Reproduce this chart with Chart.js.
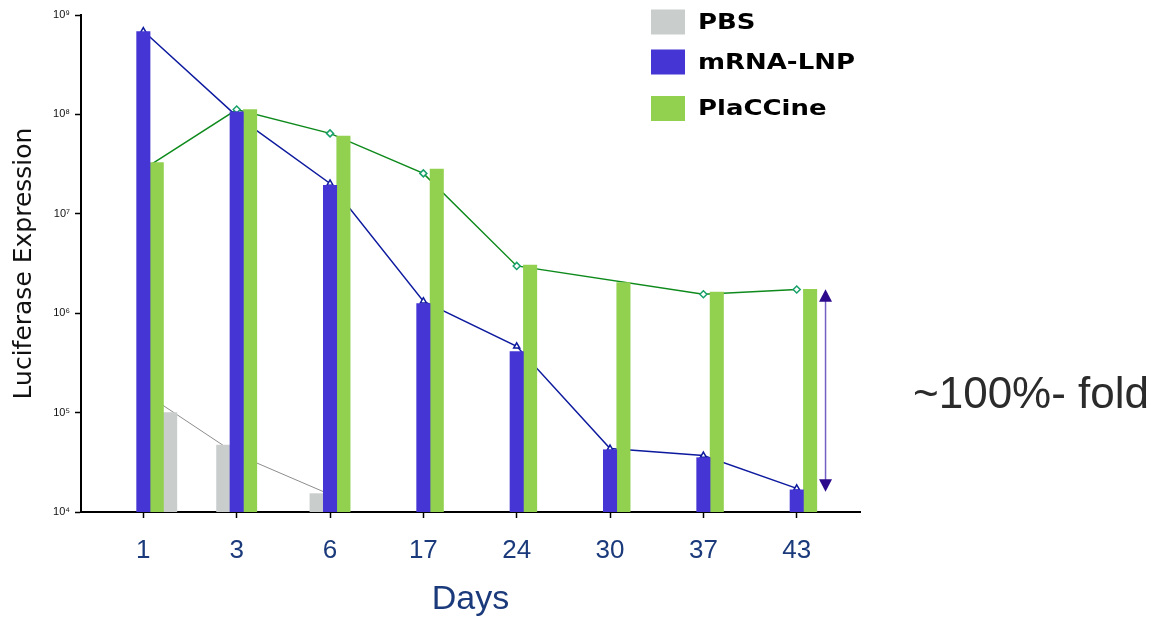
<!DOCTYPE html>
<html>
<head>
<meta charset="utf-8">
<script src="https://cdn.jsdelivr.net/npm/chart.js@4.4.1/dist/chart.umd.min.js"></script>
<style>
  html, body { margin: 0; padding: 0; background: #fff; }
  canvas { display: block; }
</style>
</head>
<body>
<canvas id="lucChart" width="1155" height="620"></canvas>
<script>
const days = ['1', '3', '6', '17', '24', '30', '37', '43'];
const yTicks = [1e4, 1e5, 1e6, 1e7, 1e8, 1e9];

// bar heights per group
const pbsBars = [1.0e5, 4.7e4, 1.53e4];
const mrnaBars = [6.8e8, 1.06e8, 1.93e7, 1.25e6, 4.1e5, 4.23e4, 3.52e4, 1.67e4];
const placBars = [3.27e7, 1.12e8, 6.04e7, 2.81e7, 3.05e6, 2.03e6, 1.63e6, 1.74e6];

// connecting lines
const pbsLine = [1.6e5, 3.8e4, 1.5e4];
const mrnaLine = [6.9e8, 9.6e7, 2.02e7, 1.32e6, 4.65e5, 4.35e4, 3.7e4, 1.73e4];
const placLine = [2.8e7, 1.12e8, 6.44e7, 2.55e7, 2.99e6, null, 1.55e6, 1.73e6];

const foldLabel = '~100%- fold';

const colors = { pbs: '#c9cdcc', mrna: '#4535d5', plac: '#92d050' };
const navy = '#1b3a7b';

// one bar slot in x units (bar width / category spacing)
const SLOT = 0.1436;
const sup = n => String(n).split('').map(c => '⁰¹²³⁴⁵⁶⁷⁸⁹'[+c]).join('');

const barSet = (label, values, color, slot) => ({
    type: 'bar',
    label,
    order: 1,
    data: values.map((v, i) => ({ x: i + slot(i) * SLOT, y: v })),
    backgroundColor: color,
    barThickness: 13.4,
    grouped: false
});

const lineSet = (label, values, color, width, pointStyle, pointColor) => ({
    type: 'line',
    label,
    order: 2,
    data: values.map((v, i) => ({ x: i, y: v })),
    borderColor: color,
    borderWidth: width,
    spanGaps: true,
    tension: 0,
    pointStyle: pointStyle || 'circle',
    pointRadius: pointStyle ? 3.5 : 0,
    pointBorderColor: pointColor,
    pointBackgroundColor: '#fff',
    pointBorderWidth: 1.5
});

const extras = {
    id: 'extras',
    afterDraw(chart) {
        const { ctx, scales: { x, y } } = chart;
        ctx.save();

        // legend
        const items = [['PBS', colors.pbs, 22], ['mRNA-LNP', colors.mrna, 62], ['PlaCCine', colors.plac, 108.5]];
        items.forEach(([text, color, cy]) => {
            ctx.fillStyle = color;
            ctx.fillRect(651, cy - 12.5, 34, 25);
            ctx.save();
            ctx.translate(698, cy);
            ctx.scale(1.18, 1);
            ctx.fillStyle = '#000';
            ctx.font = 'bold 22px "DejaVu Sans"';
            ctx.textBaseline = 'middle';
            ctx.fillText(text, 0, 1);
            ctx.restore();
        });

        // double arrow between the two day-43 values
        const ax = x.getPixelForValue(7 + 2.15 * SLOT);
        const top = y.getPixelForValue(placBars[7]);
        const bot = y.getPixelForValue(mrnaBars[7]) + 2;
        ctx.strokeStyle = '#7460c4';
        ctx.lineWidth = 1.5;
        ctx.beginPath();
        ctx.moveTo(ax, top + 10);
        ctx.lineTo(ax, bot - 10);
        ctx.stroke();
        ctx.fillStyle = '#2d0a8c';
        ctx.beginPath();
        ctx.moveTo(ax, top);
        ctx.lineTo(ax - 6.5, top + 12.5);
        ctx.lineTo(ax + 6.5, top + 12.5);
        ctx.closePath();
        ctx.fill();
        ctx.beginPath();
        ctx.moveTo(ax, bot);
        ctx.lineTo(ax - 6.5, bot - 12.5);
        ctx.lineTo(ax + 6.5, bot - 12.5);
        ctx.closePath();
        ctx.fill();

        ctx.fillStyle = '#2b2b2b';
        ctx.font = '44px "Liberation Sans"';
        ctx.textBaseline = 'alphabetic';
        ctx.fillText(foldLabel, 913, 408);
        ctx.restore();
    }
};

new Chart(document.getElementById('lucChart'), {
    type: 'bar',
    data: {
        datasets: [
            barSet('mRNA-LNP', mrnaBars, colors.mrna, () => 0),
            barSet('PlaCCine', placBars, colors.plac, () => 1),
            barSet('PBS', pbsBars, colors.pbs, i => (i === 0 ? 2 : -1)),
            lineSet('mRNA-LNP line', mrnaLine, '#0d1a9e', 1.5, 'triangle', '#0d1a9e'),
            lineSet('PlaCCine line', placLine, '#0e8a1c', 1.5, 'rectRot', '#17a06a'),
            lineSet('PBS line', pbsLine, '#8c8c8c', 1)
        ]
    },
    options: {
        responsive: false,
        animation: false,
        layout: { padding: { left: 0, right: 295, top: 15, bottom: 0 } },
        plugins: { legend: { display: false }, tooltip: { enabled: false } },
        scales: {
            x: {
                type: 'linear',
                min: -0.668,
                max: 7.678,
                offset: false,
                afterBuildTicks: s => { s.ticks = days.map((d, i) => ({ value: i })); },
                afterFit: s => { s.height = 108; },
                grid: { drawOnChartArea: false, offset: false, tickLength: 6, color: '#000', tickWidth: 1.5 },
                border: { color: '#000', width: 2 },
                ticks: {
                    callback: v => days[v],
                    color: navy,
                    font: { family: 'Liberation Sans', size: 26 },
                    padding: 17,
                    maxRotation: 0,
                    autoSkip: false
                },
                title: {
                    display: true,
                    text: 'Days',
                    color: navy,
                    font: { family: 'Liberation Sans', size: 34 },
                    padding: { top: 0, bottom: 0 }
                }
            },
            y: {
                type: 'logarithmic',
                min: 1e4,
                max: 1e9,
                afterBuildTicks: s => { s.ticks = yTicks.map(v => ({ value: v })); },
                afterFit: s => { s.width = 81; },
                grid: { drawOnChartArea: false, tickLength: 6, color: '#000', tickWidth: 1.5 },
                border: { color: '#000', width: 2 },
                ticks: {
                    callback: v => '10' + sup(Math.round(Math.log10(v))),
                    color: '#111',
                    font: { family: 'Liberation Sans', size: 11 },
                    padding: 5
                },
                title: {
                    display: true,
                    text: 'Luciferase Expression',
                    color: '#111',
                    font: { family: 'DejaVu Sans', size: 25 },
                    padding: { top: 9, bottom: 0 }
                }
            }
        }
    },
    plugins: [extras]
});
</script>
</body>
</html>
